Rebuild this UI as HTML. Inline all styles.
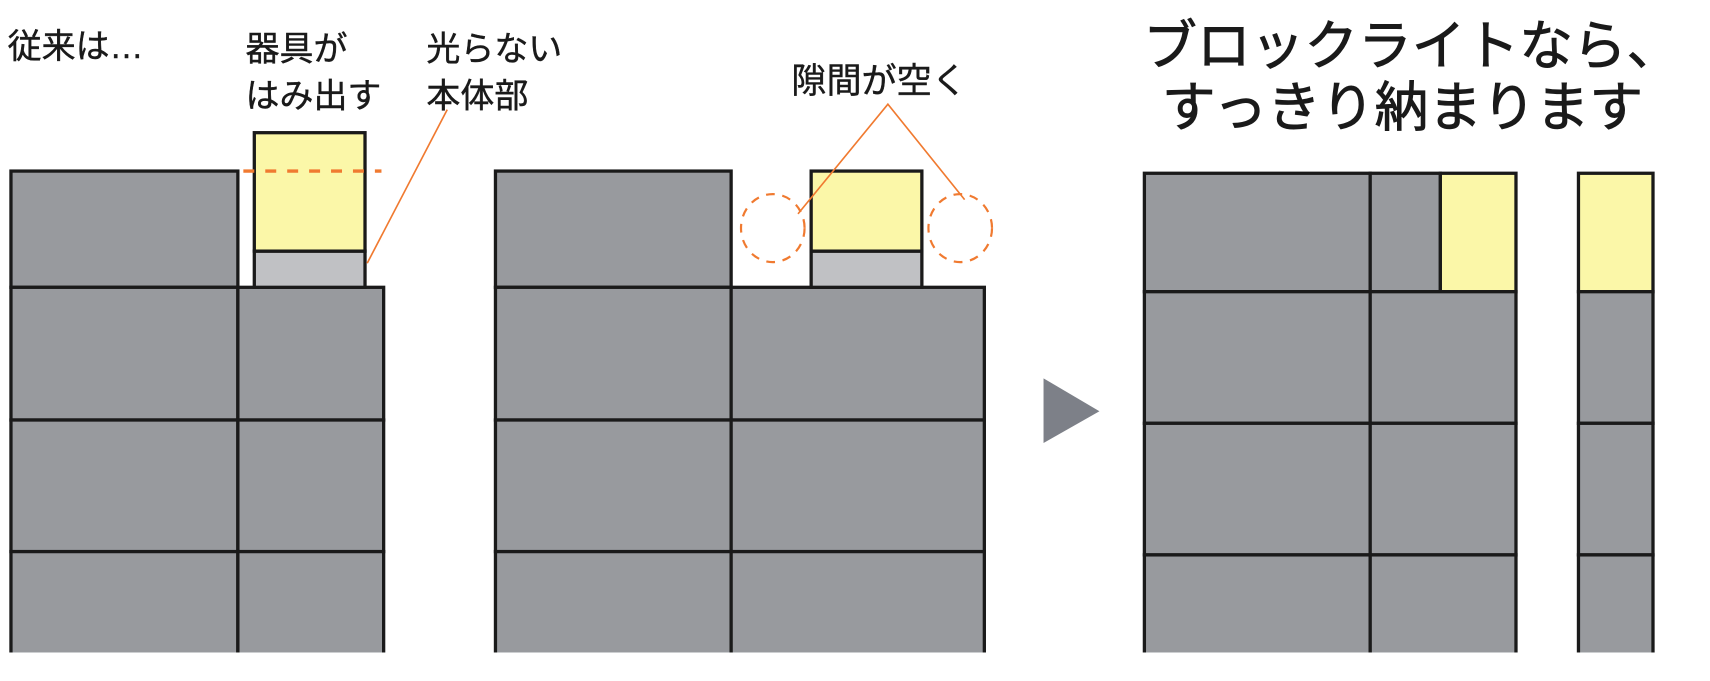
<!DOCTYPE html>
<html><head><meta charset="utf-8"><style>
html,body{margin:0;padding:0;background:#fff;}
svg{display:block;}
text{font-family:"Liberation Sans","Noto Sans CJK JP",sans-serif;fill:#1a1a1a;}
</style></head><body>
<svg width="1710" height="681" viewBox="0 0 1560 621" preserveAspectRatio="none" xmlns="http://www.w3.org/2000/svg">
<g stroke="#1a1a1a" stroke-width="3" fill="#989a9e">
<rect x="10" y="156" width="207" height="106"/>
<rect x="10" y="262" width="207" height="121"/>
<rect x="217" y="262" width="133" height="121"/>
<rect x="10" y="383" width="207" height="120"/>
<rect x="217" y="383" width="133" height="120"/>
<rect x="10" y="503" width="207" height="100"/>
<rect x="217" y="503" width="133" height="100"/>
<rect x="232" y="229" width="101" height="33" fill="#c0c1c4"/>
<rect x="232" y="121" width="101" height="108" fill="#fbf7a8"/>
<rect x="452" y="156" width="215" height="106"/>
<rect x="452" y="262" width="215" height="121"/>
<rect x="667" y="262" width="231" height="121"/>
<rect x="452" y="383" width="215" height="120"/>
<rect x="667" y="383" width="231" height="120"/>
<rect x="452" y="503" width="215" height="100"/>
<rect x="667" y="503" width="231" height="100"/>
<rect x="740" y="229" width="101" height="33" fill="#c0c1c4"/>
<rect x="740" y="156" width="101" height="73" fill="#fbf7a8"/>
<rect x="1044" y="158" width="206" height="108"/>
<rect x="1250" y="158" width="64" height="108"/>
<rect x="1314" y="158" width="69" height="108" fill="#fbf7a8"/>
<rect x="1044" y="266" width="206" height="120"/>
<rect x="1250" y="266" width="133" height="120"/>
<rect x="1044" y="386" width="206" height="120"/>
<rect x="1250" y="386" width="133" height="120"/>
<rect x="1044" y="506" width="206" height="100"/>
<rect x="1250" y="506" width="133" height="100"/>
<rect x="1440" y="158" width="68" height="108" fill="#fbf7a8"/>
<rect x="1440" y="266" width="68" height="120"/>
<rect x="1440" y="386" width="68" height="120"/>
<rect x="1440" y="506" width="68" height="100"/>
</g>
<rect x="0" y="595" width="1560" height="30" fill="#fff"/>
<g stroke="#f07a30" fill="none" stroke-width="2">
<line x1="222" y1="156" x2="348" y2="156" stroke-dasharray="10,10" stroke-width="3"/>
<line x1="408" y1="100" x2="335" y2="240" stroke-width="1.5"/>
<ellipse cx="705" cy="208" rx="29" ry="31" stroke-dasharray="8,7"/>
<ellipse cx="876" cy="208" rx="29" ry="31" stroke-dasharray="8,7"/>
<polyline points="728,195 810,95 880,182" stroke-width="1.5"/>
</g>
<polygon points="952,345 1003,375 952,404" fill="#7d8088"/>
<g font-size="31" stroke="#1a1a1a" stroke-width="0.4">
<text x="7" y="53">従来は…</text>
<text x="224" y="55">器具が</text>
<text x="224" y="98">はみ出す</text>
<text x="389" y="55">光らない</text>
<text x="389" y="98">本体部</text>
<text x="722" y="85" font-size="32">隙間が空く</text>
</g>
<g font-size="49" stroke="#1a1a1a" stroke-width="0.8">
<text x="1043" y="59">ブロックライトなら、</text>
<text x="1060" y="115">すっきり納まります</text>
</g>
</svg>
</body></html>
